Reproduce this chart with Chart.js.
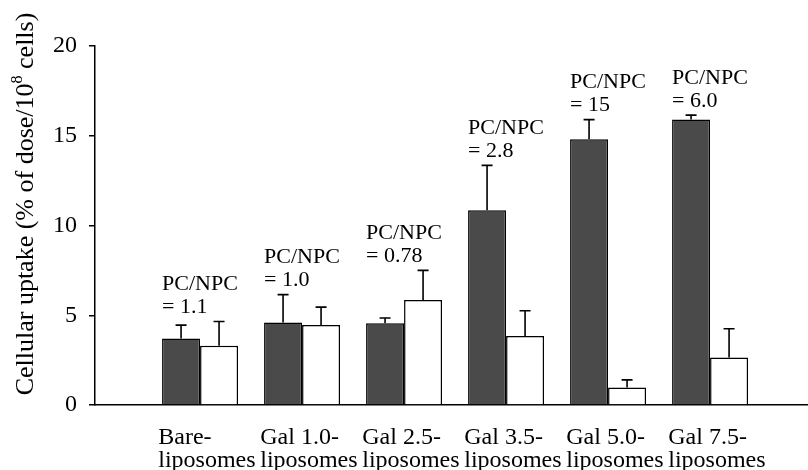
<!DOCTYPE html>
<html>
<head>
<meta charset="utf-8">
<script src="https://cdn.jsdelivr.net/npm/chart.js@4.4.1/dist/chart.umd.min.js"></script>
<style>
  html, body { margin: 0; padding: 0; background: #fff; }
  #wrap { width: 808px; height: 470px; position: relative; }
</style>
</head>
<body>
<div id="wrap"><canvas id="c" width="808" height="470"></canvas></div>
<script>
// Liposome formulations
const categories = [
  ['Bare-', 'liposomes'],
  ['Gal 1.0-', 'liposomes'],
  ['Gal 2.5-', 'liposomes'],
  ['Gal 3.5-', 'liposomes'],
  ['Gal 5.0-', 'liposomes'],
  ['Gal 7.5-', 'liposomes']
];
// Uptake by parenchymal (PC) and non-parenchymal (NPC) cells, % of dose/10^8 cells
const pcUptake  = [3.7, 4.6, 4.55, 10.85, 14.8, 15.9];
const npcUptake = [3.3, 4.45, 5.85, 3.85, 0.98, 2.65];
// Upper error (S.D.)
const pcError  = [0.75, 1.55, 0.3, 2.5, 1.1, 0.25];
const npcError = [1.35, 1.0, 1.65, 1.4, 0.42, 1.6];
// PC/NPC ratio labels
const ratioLabels = ['1.1', '1.0', '0.78', '2.8', '15', '6.0'];
const yTicks = [0, 5, 10, 15, 20];

const SERIF = '"Liberation Serif", "Times New Roman", serif';

const toPoints = arr => arr.map((v, i) => ({ x: i, y: v }));

// Upper error bars with caps
const errorBars = {
  id: 'errorBars',
  afterDatasetsDraw(chart) {
    const { ctx, scales: { y } } = chart;
    const errs = [pcError, npcError];
    const vals = [pcUptake, npcUptake];
    ctx.save();
    ctx.strokeStyle = '#000';
    ctx.lineWidth = 1.6;
    [0, 1].forEach(d => {
      chart.getDatasetMeta(d).data.forEach((bar, i) => {
        const x = bar.x;
        const y0 = y.getPixelForValue(vals[d][i]);
        const y1 = y.getPixelForValue(vals[d][i] + errs[d][i]);
        ctx.beginPath();
        ctx.moveTo(x, y0);
        ctx.lineTo(x, y1);
        ctx.moveTo(x - 5.5, y1);
        ctx.lineTo(x + 5.5, y1);
        ctx.stroke();
      });
    });
    ctx.restore();
  }
};

// "PC/NPC = r" notes above each group
const ratioNotes = {
  id: 'ratioNotes',
  afterDraw(chart) {
    const { ctx, scales: { x, y } } = chart;
    ctx.save();
    ctx.fillStyle = '#000';
    ctx.font = '22px ' + SERIF;
    ctx.textAlign = 'left';
    ctx.textBaseline = 'middle';
    ratioLabels.forEach((r, i) => {
      const top = Math.max(pcUptake[i] + pcError[i], npcUptake[i] + npcError[i]);
      const py = y.getPixelForValue(top);
      const px = x.getPixelForValue(i) - 38;
      ctx.fillText('PC/NPC', px, py - 37);
      ctx.fillText('= ' + r, px, py - 14);
    });
    ctx.restore();
  }
};

// Rotated y-axis title with superscript exponent
const yTitle = {
  id: 'yTitle',
  afterDraw(chart) {
    const { ctx } = chart;
    const parts = [
      { t: 'Cellular uptake (% of dose/10', size: 26, rise: 0 },
      { t: '8', size: 16, rise: 11 },
      { t: ' cells)', size: 26, rise: 0 }
    ];
    ctx.save();
    ctx.fillStyle = '#000';
    ctx.translate(33, 204);
    ctx.rotate(-Math.PI / 2);
    ctx.textBaseline = 'alphabetic';
    ctx.textAlign = 'left';
    let total = 0;
    parts.forEach(p => { ctx.font = p.size + 'px ' + SERIF; p.w = ctx.measureText(p.t).width; total += p.w; });
    let cx = -total / 2;
    parts.forEach(p => {
      ctx.font = p.size + 'px ' + SERIF;
      ctx.fillText(p.t, cx, -p.rise);
      cx += p.w;
    });
    ctx.restore();
  }
};

new Chart(document.getElementById('c'), {
  type: 'bar',
  data: {
    datasets: [
      {
        label: 'PC',
        data: toPoints(pcUptake),
        backgroundColor: '#4a4a4a',
        borderColor: '#000',
        borderWidth: 1.5,
        categoryPercentage: 0.745,
        barPercentage: 1.0
      },
      {
        label: 'NPC',
        data: toPoints(npcUptake),
        backgroundColor: '#ffffff',
        borderColor: '#000',
        borderWidth: 1.5,
        categoryPercentage: 0.745,
        barPercentage: 1.0
      }
    ]
  },
  options: {
    responsive: false,
    animation: false,
    devicePixelRatio: 1,
    layout: { padding: { top: 46, right: 0, bottom: 0, left: 0 } },
    plugins: {
      legend: { display: false },
      tooltip: { enabled: false },
      title: { display: false }
    },
    scales: {
      x: {
        type: 'linear',
        offset: false,
        min: -1.03,
        max: 5.96,
        afterFit(scale) { scale.height = 65; },
        afterBuildTicks(scale) {
          scale.ticks = categories.map((_, i) => ({ value: i - 0.41 }));
        },
        grid: { display: false },
        border: { display: true, color: '#000', width: 1.5 },
        ticks: {
          autoSkip: false,
          maxRotation: 0,
          minRotation: 0,
          align: 'start',
          padding: 13,
          color: '#000',
          font: { family: SERIF, size: 24, lineHeight: 0.96 },
          callback: v => categories[Math.round(v + 0.41)] || ''
        }
      },
      y: {
        min: 0,
        max: 20,
        afterFit(scale) { scale.width = 95; },
        afterBuildTicks(scale) {
          scale.ticks = yTicks.map(v => ({ value: v }));
        },
        grid: {
          drawOnChartArea: false,
          drawTicks: true,
          tickLength: 6,
          color: '#000',
          lineWidth: 1.5
        },
        border: { display: true, color: '#000', width: 1.5 },
        ticks: {
          padding: 12,
          color: '#000',
          font: { family: SERIF, size: 24 }
        }
      }
    }
  },
  plugins: [errorBars, ratioNotes, yTitle]
});
</script>
</body>
</html>
